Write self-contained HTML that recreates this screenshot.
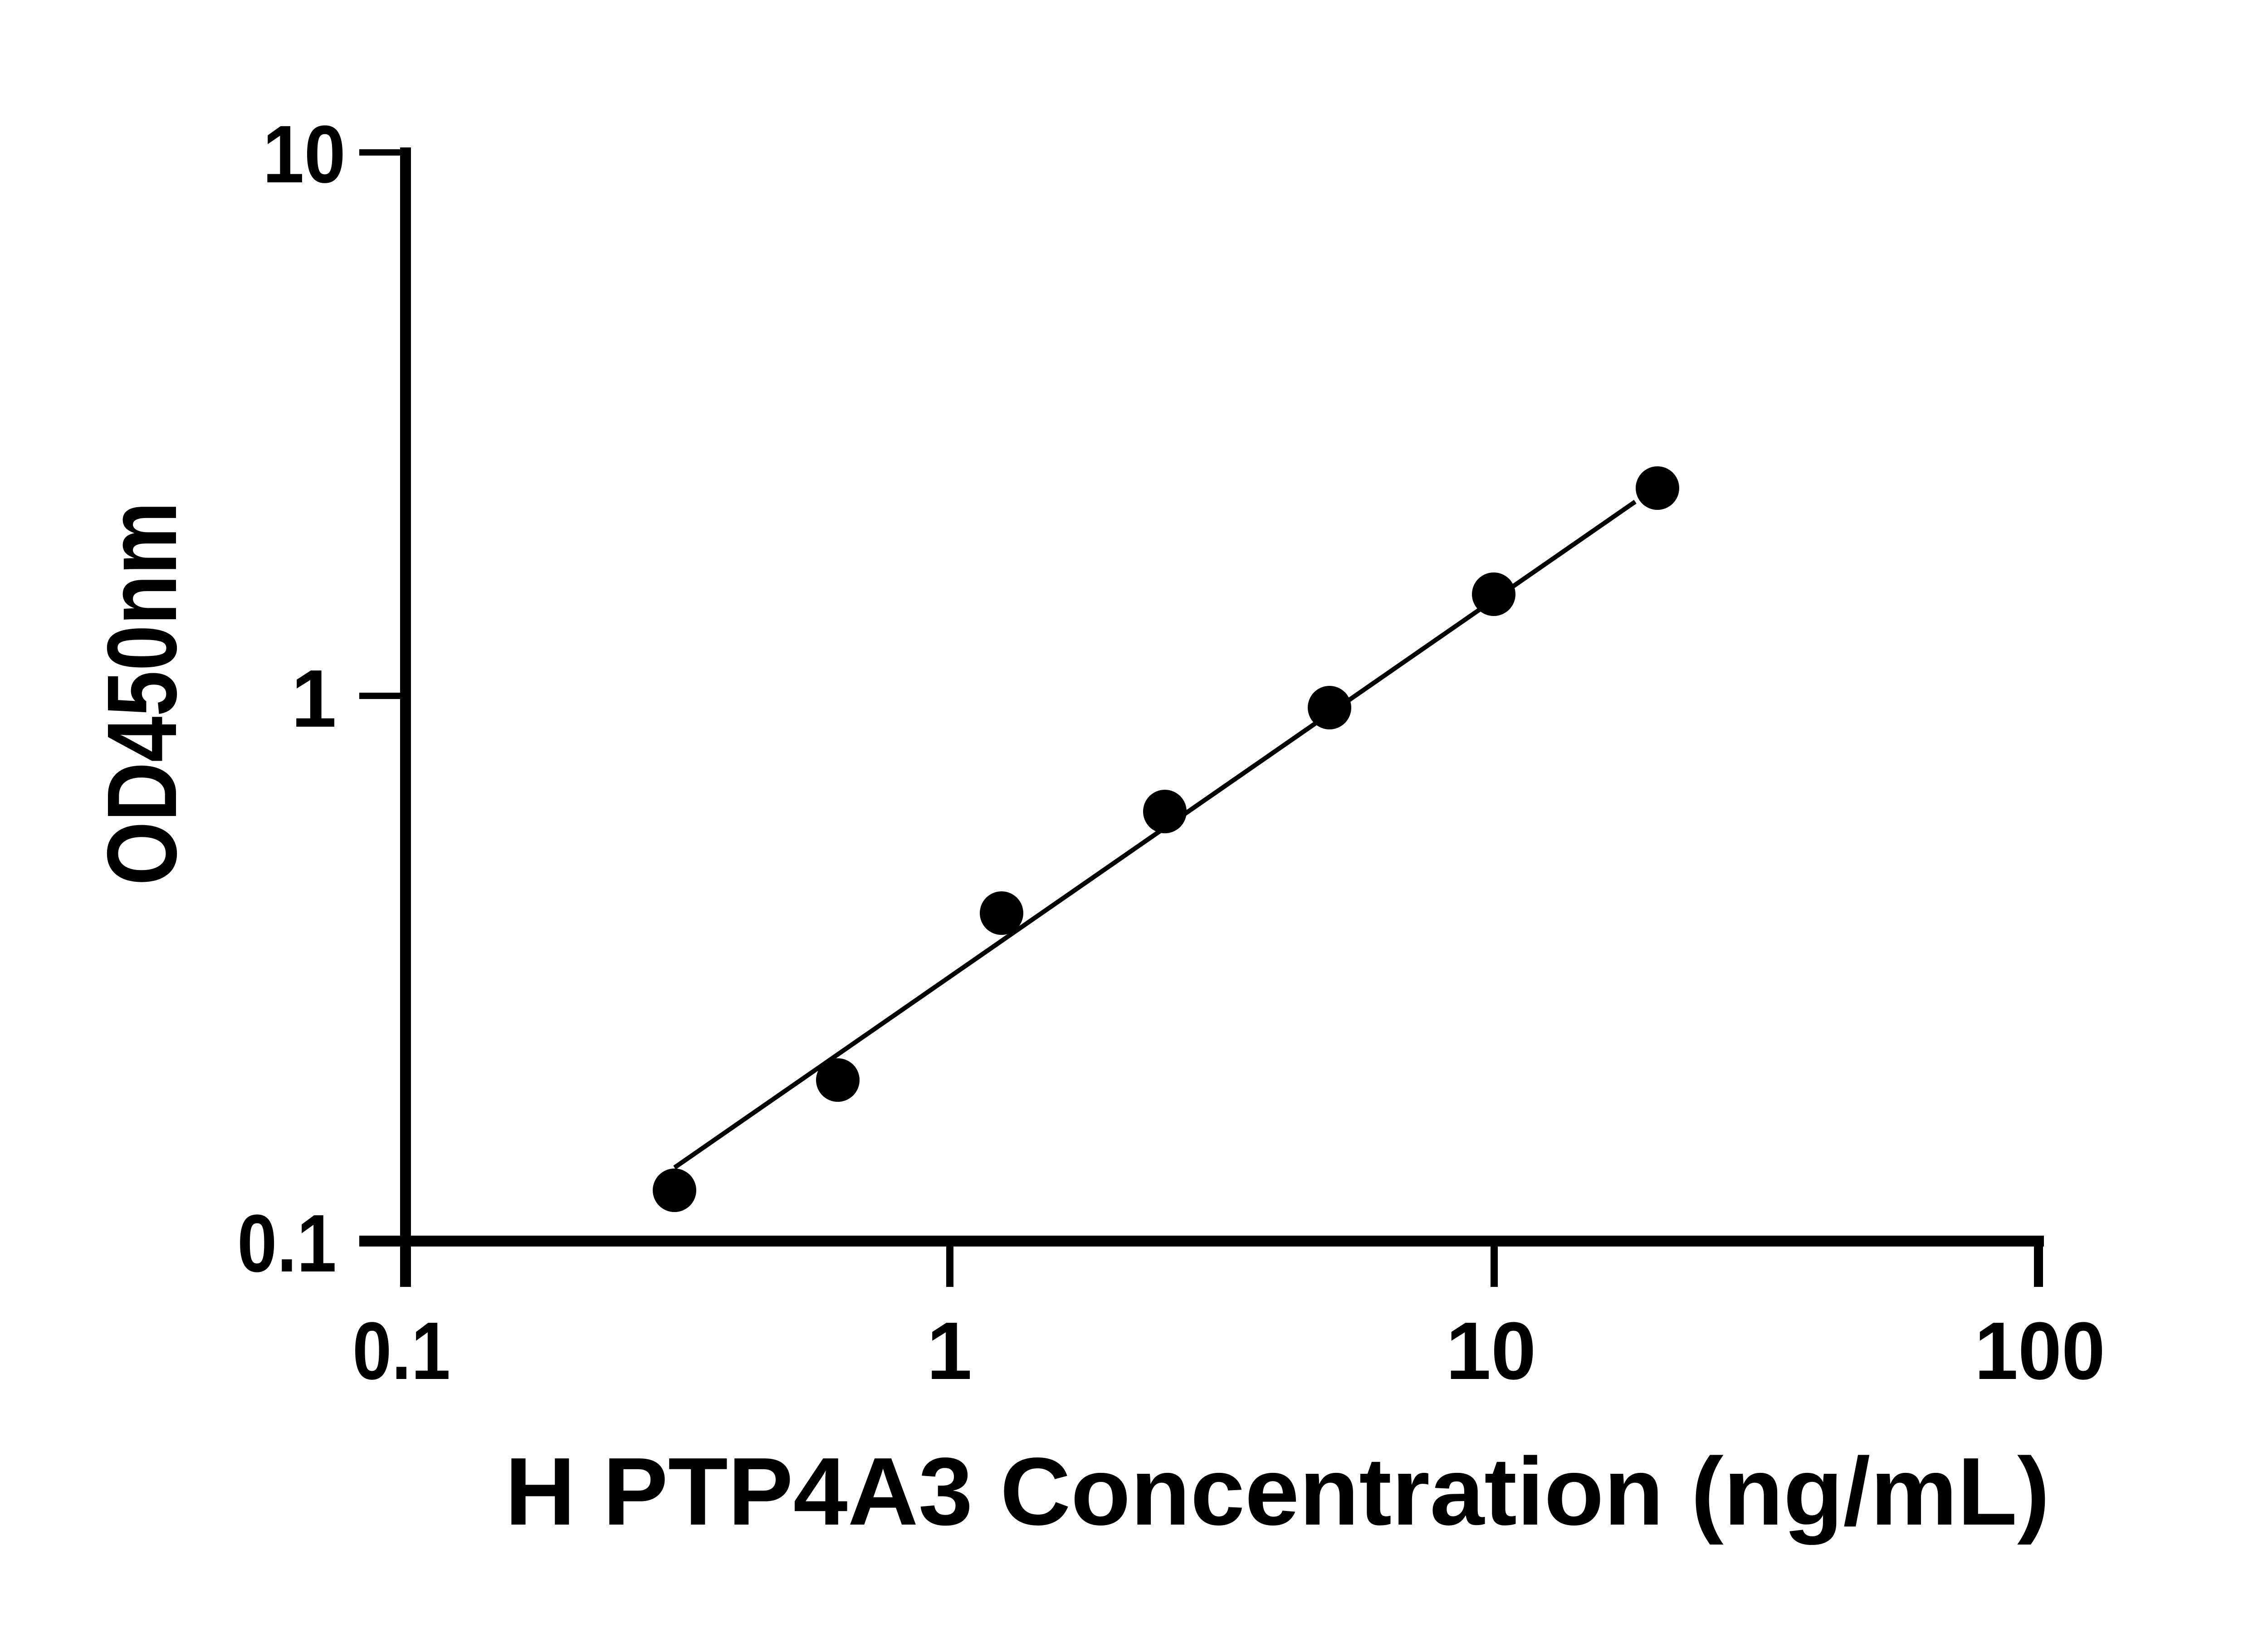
<!DOCTYPE html>
<html><head><meta charset="utf-8"><style>
html,body{margin:0;padding:0;background:#fff;}
svg{display:block;}
text{font-family:"Liberation Sans",Arial,sans-serif;font-weight:bold;fill:#000;}
</style></head><body>
<svg width="5046" height="3600" viewBox="0 0 5046 3600" xmlns="http://www.w3.org/2000/svg">
<rect width="5046" height="3600" fill="#fff"/>
<!-- y axis -->
<rect x="882" y="325" width="24" height="2512" fill="#000"/>
<!-- x axis -->
<rect x="792" y="2724" width="3714" height="24" fill="#000"/>
<!-- y ticks -->
<rect x="792" y="329" width="100" height="14" fill="#000"/>
<rect x="792" y="1527" width="100" height="14" fill="#000"/>
<rect x="792" y="2727" width="100" height="14" fill="#000"/>
<!-- x ticks -->
<rect x="2086" y="2740" width="16" height="97" fill="#000"/>
<rect x="3286" y="2740" width="16" height="97" fill="#000"/>
<rect x="4484" y="2724" width="20" height="113" fill="#000"/>
<!-- y tick labels -->
<text x="762" y="402" font-size="180" text-anchor="end" textLength="183" lengthAdjust="spacingAndGlyphs">10</text>
<text x="742" y="1602" font-size="180" text-anchor="end">1</text>
<text x="742" y="2803" font-size="180" text-anchor="end" textLength="219" lengthAdjust="spacingAndGlyphs">0.1</text>
<!-- x tick labels -->
<text x="885" y="3040" font-size="180" text-anchor="middle" textLength="216" lengthAdjust="spacingAndGlyphs">0.1</text>
<text x="2093" y="3040" font-size="180" text-anchor="middle">1</text>
<text x="3287" y="3040" font-size="180" text-anchor="middle" textLength="199" lengthAdjust="spacingAndGlyphs">10</text>
<text x="4497" y="3040" font-size="180" text-anchor="middle" textLength="288" lengthAdjust="spacingAndGlyphs">100</text>
<!-- x title -->
<text x="1113" y="3361" font-size="212" textLength="3406" lengthAdjust="spacingAndGlyphs">H PTP4A3 Concentration (ng/mL)</text>
<!-- y title -->
<text transform="translate(388,1952) rotate(-90)" x="0" y="0" font-size="218" textLength="846" lengthAdjust="spacingAndGlyphs">OD450nm</text>
<!-- fit line -->
<line x1="1487" y1="2574" x2="3605" y2="1106" stroke="#000" stroke-width="10"/>
<!-- points -->
<g fill="#000">
<circle cx="1487" cy="2624" r="48"/>
<circle cx="1847" cy="2381" r="48"/>
<circle cx="2208" cy="2013" r="48"/>
<circle cx="2568" cy="1789" r="48"/>
<circle cx="2931" cy="1560" r="48"/>
<circle cx="3293" cy="1310" r="48"/>
<circle cx="3654" cy="1076" r="48"/>
</g>
</svg>
</body></html>
